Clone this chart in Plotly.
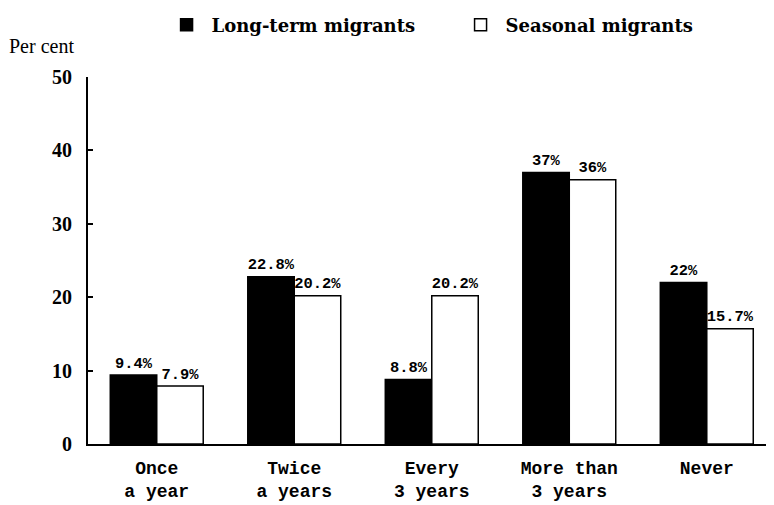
import plotly.graph_objects as go

categories = ["Once<br>a year", "Twice<br>a years", "Every<br>3 years", "More than<br>3 years", "Never"]
long_term = [9.4, 22.8, 8.8, 37, 22]
seasonal = [7.9, 20.2, 20.2, 36, 15.7]
series_names = ["Long-term migrants", "Seasonal migrants"]
y_ticks = [0, 10, 20, 30, 40, 50]

mono = dict(family="Liberation Mono", size=18, color="black", weight="bold")
serif = dict(family="Liberation Serif", size=20, color="black", weight="bold")
label_font = dict(family="Liberation Mono", size=18, color="black", weight="bold")

fig = go.Figure()
fig.add_trace(go.Bar(
    x=categories, y=long_term, name=series_names[0],
    marker=dict(color="black", line=dict(color="black", width=1.5)),
    text=[f"{v:g}%" for v in long_term], textposition="outside",
    textfont=label_font, cliponaxis=False,
))
fig.add_trace(go.Bar(
    x=categories, y=seasonal, name=series_names[1],
    marker=dict(color="white", line=dict(color="black", width=1.5)),
    text=[f"{v:g}%" for v in seasonal], textposition="outside",
    textfont=label_font, cliponaxis=False,
))

fig.update_layout(
    width=774, height=505,
    margin=dict(l=80, r=0, t=69, b=69, autoexpand=False),
    paper_bgcolor="white", plot_bgcolor="white",
    barmode="group", bargap=0.324, bargroupgap=0,
    showlegend=True,
    legend=dict(orientation="h", x=0.106, y=1.192, xanchor="left", yanchor="top",
                font=dict(family="DejaVu Serif", size=18, color="black", weight="bold"),
                entrywidth=239, entrywidthmode="pixels", itemwidth=40,
                bgcolor="rgba(0,0,0,0)"),
    uniformtext=dict(minsize=8, mode="show"),
)
fig.update_xaxes(
    range=[-0.5, 4.547], showline=True, linecolor="black", linewidth=2,
    ticks="", showgrid=False, tickfont=mono, zeroline=False, automargin=False,
    ticklabelstandoff=6,
)
fig.update_yaxes(
    range=[0, 50], tickvals=y_ticks, showline=True, linecolor="black", linewidth=2,
    ticks="inside", ticklen=5, tickcolor="black", tickwidth=1.5,
    showgrid=False, zeroline=False, tickfont=serif, ticklabelstandoff=10,
    automargin=False,
)
fig.add_annotation(
    text="Per cent", xref="paper", yref="paper", x=-0.117, y=1.048,
    xanchor="left", yanchor="bottom", showarrow=False,
    font=dict(family="Liberation Serif", size=20, color="black"),
)

fig.write_html("out.html")
